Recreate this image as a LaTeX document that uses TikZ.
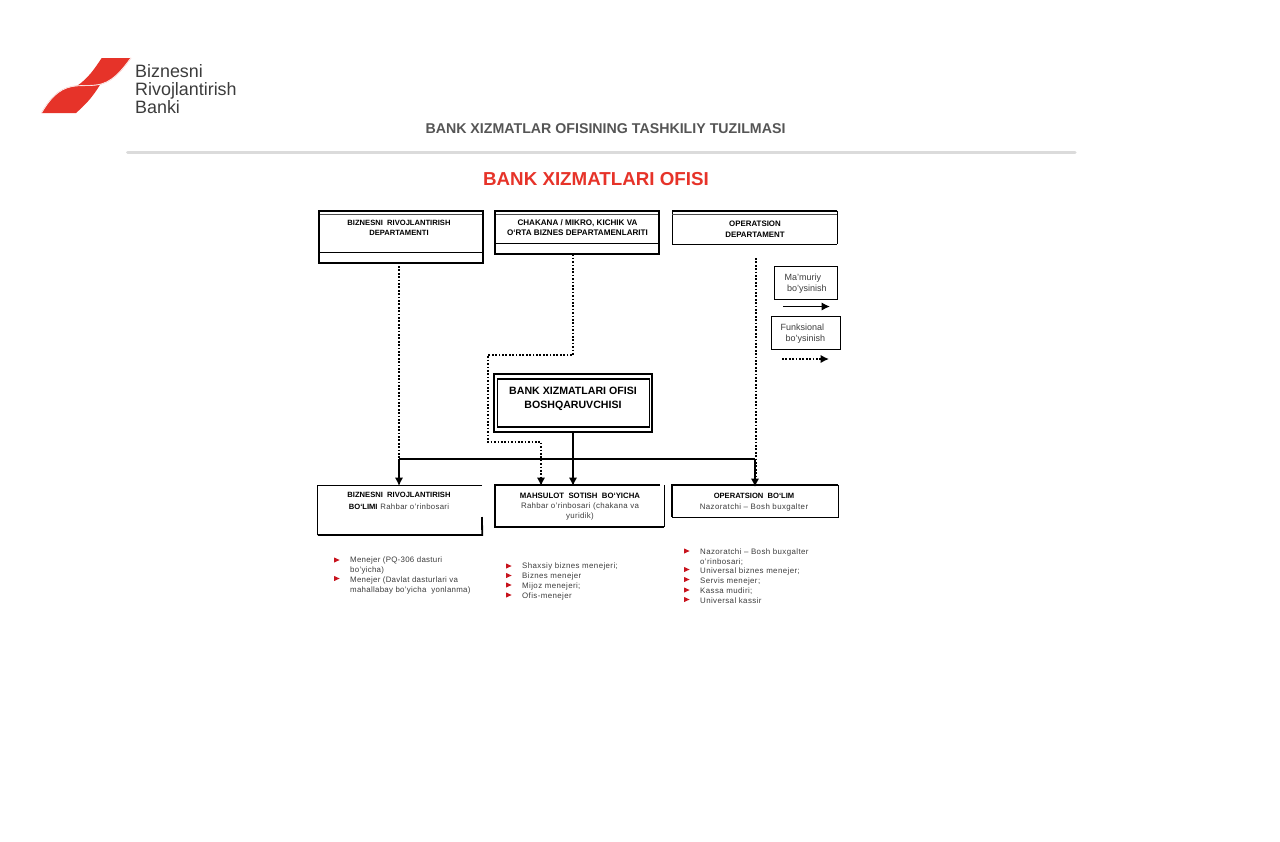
\documentclass[tikz,border=0pt]{standalone}
\usepackage{fontspec}
\setmainfont{Liberation Sans}
\usetikzlibrary{arrows.meta}
\definecolor{brandred}{HTML}{E63329}
\definecolor{bullred}{HTML}{C8141E}
\definecolor{txt}{HTML}{3C3C3C}
\definecolor{greytitle}{HTML}{555555}
\tikzset{
  lbl/.style={align=center,inner sep=0pt,text=black},
  hd/.style={font=\fontsize{7.6}{10.2}\selectfont\bfseries},
  lst/.style={align=left,anchor=north west,inner sep=0pt,text=txt},
  solidc/.style={line width=1.6pt,-{Latex[length=8.5pt,width=8.5pt]}},
  plainc/.style={line width=1.5pt},
  dotc/.style={line width=1.6pt,dash pattern=on 1.7pt off 1.7pt},
  dota/.style={dotc,-{Latex[length=8.5pt,width=8.5pt,sep=0pt]}},
  thickl/.style={line width=1.8pt},
  thinl/.style={line width=.6pt}
}
\newcommand{\bmark}[2]{\fill[bullred] (#1-3,#2-2.6) -- (#1+2.6,#2) -- (#1-3,#2+2.6) -- cycle;}
\newcommand{\spc}[1]{\addfontfeature{LetterSpace=#1}}
\begin{document}
\begin{tikzpicture}[x=1pt,y=-1pt]
\useasboundingbox (0,0) rectangle (1280,841);
% logo
\fill[brandred] (101.7,58) -- (131,58) .. controls (122,70) and (112,83.5) .. (96,85) -- (76,86.5) .. controls (88,79) and (95,68) .. cycle;
\fill[brandred] (41.5,113) .. controls (49,100) and (58,89) .. (72,86.5) .. controls (80,85) and (88,86) .. (96,85) -- (100,84.8) .. controls (92,98) and (85,105) .. (76,113) -- cycle;
\draw[brandred!30,line width=.9pt] (131,57.8) .. controls (122,70) and (112,83.5) .. (96,85) .. controls (88,86) and (80,85) .. (72,86.5) .. controls (58,89) and (49,100) .. (41.5,113);
\draw[white,line width=.3pt] (131,57.8) .. controls (122,70) and (112,83.5) .. (96,85) .. controls (88,86) and (80,85) .. (72,86.5) .. controls (58,89) and (49,100) .. (41.5,113);
\node[anchor=west,inner sep=0pt,align=left,text=txt,font=\fontsize{17.9}{17.7}\selectfont] (logotext) at (135,89) {Biznesni\\Rivojlantirish\\Banki};
% titles
\node[inner sep=0pt,text=greytitle,font=\fontsize{14.2}{16}\selectfont\bfseries] (sub) at (605.5,129) {BANK XIZMATLAR OFISINING TASHKILIY TUZILMASI};
\draw[line width=3pt,color=black!14,line cap=round] (127.5,152.7) -- (1075,152.7);
\node[inner sep=0pt,text=brandred,font=\fontsize{18.75}{22}\selectfont\bfseries] (main) at (596,179.5) {BANK XIZMATLARI OFISI};
% top boxes
\node[draw=none,minimum width=163.2pt,minimum height=51.5pt,inner sep=0pt] (d1) at (400.8,236.65) {};
\draw[thinl,black!70] (319,214.5) -- (482,214.5);
\draw[thinl] (319,252.7) -- (482,252.7);
\draw[thickl] (d1.north west) -- (d1.north east) -- (d1.south east) -- (d1.south west) -- cycle;
\node[lbl,hd] (d1t) at (399,227.5) {BIZNESNI\ \ RIVOJLANTIRISH\\DEPARTAMENTI};

\node[draw=none,minimum width=163.9pt,minimum height=43.2pt,inner sep=0pt] (d2) at (577.15,232.5) {};
\draw[thinl,black!70] (495,214.5) -- (659,214.5);
\draw[thinl] (495,243) -- (659,243);
\draw[thickl] (d2.north west) -- (d2.north east) -- (d2.south east) -- (d2.south west) -- cycle;
\node[lbl,font=\fontsize{8.1}{10.2}\selectfont\bfseries] (d2t) at (577.5,227.5) {CHAKANA / MIKRO, KICHIK VA\\O‘RTA BIZNES DEPARTAMENLARITI};

\node[draw=none,minimum width=164.5pt,minimum height=32.5pt,inner sep=0pt] (d3) at (754.8,227.4) {};
\draw[thinl] (d3.south west) -- (d3.south east);
\draw[thinl] (d3.north west) -- (d3.south west);
\draw[line width=1pt] (d3.north east) -- (d3.south east);
\draw[line width=1.6pt] (d3.north west) -- (d3.north east);
\draw[thinl,black!70] (672,214.5) -- (837,214.5);
\node[lbl,font=\fontsize{7.9}{10.2}\selectfont\bfseries] (d3t) at (755,229.2) {OPERATSION\\DEPARTAMENT};
% manager
\node[draw=none,minimum width=157.4pt,minimum height=57pt,inner sep=0pt] (m) at (573,402.8) {};
\draw[line width=2pt] (m.north west) rectangle (m.south east);
\draw[thinl] (497.5,379) rectangle (649.5,427);
\draw[line width=1.1pt] (497,378.5) -- (650,378.5) (497,426.3) -- (650,426.3);
\node[lbl,font=\fontsize{10.6}{13.6}\selectfont\bfseries] (mt) at (573,399) {BANK XIZMATLARI OFISI\\BOSHQARUVCHISI};
% legend
\node[draw,line width=.7pt,minimum width=63.5pt,minimum height=33pt,inner sep=0pt] (l1) at (806,282.5) {};
\node[anchor=north west,inner sep=0pt,align=left,text=txt,font=\fontsize{9}{11}\selectfont] (l1t) at (784.5,273.5) {Ma’muriy\\\ bo’ysinish};
\node[draw,line width=.7pt,minimum width=69.5pt,minimum height=33pt,inner sep=0pt] (l2) at (806,333) {};
\node[anchor=north west,inner sep=0pt,align=left,text=txt,font=\fontsize{9}{11}\selectfont] (l2t) at (780.5,323.5) {Funksional\\\ \ bo’ysinish};
\coordinate (k1a) at (783,306.5); \coordinate (k1b) at (830,306.5);
\coordinate (k2a) at (782,359); \coordinate (k2b) at (829,359);
\draw[solidc] (k1a) -- (k1b);
\draw[dota] (k2a) -- (k2b);
% lower boxes
\node[draw=none,minimum width=164pt,minimum height=49.5pt,inner sep=0pt] (b1) at (400,510) {};
\draw[line width=.8pt] (b1.north east) -- (b1.north west);
\draw[line width=1pt] (b1.north west) -- (b1.south west);
\draw[thickl] (b1.south west) -- (b1.south east) -- (482,517);
\node[lbl] (b1t) at (399,501) {\fontsize{7.6}{10}\selectfont\bfseries BIZNESNI\ \ RIVOJLANTIRISH\\{\fontsize{7.6}{10}\selectfont\bfseries BO‘LIMI} {\color{txt}\fontsize{7.8}{10}\selectfont\mdseries\spc{4}Rahbar o’rinbosari}};

\node[draw=none,minimum width=169pt,minimum height=42pt,inner sep=0pt] (b2) at (579.5,506) {};
\draw[line width=.8pt] (b2.north east) -- (b2.south east);
\draw[thickl] (b2.north east) ++(-4,0) -- (b2.north west) -- (b2.south west) -- (b2.south east);
\node[lbl,align=center] (b2t) at (580,506.5) {\fontsize{7.8}{10}\selectfont\bfseries MAHSULOT\ \ SOTISH\ \ BO‘YICHA\\[-2pt]{\color{txt}\fontsize{7.9}{10}\selectfont\mdseries\spc{4}Rahbar o’rinbosari (chakana va}\\[-2pt]{\color{txt}\fontsize{7.9}{10}\selectfont\mdseries\spc{4}yuridik)}};

\node[draw=none,minimum width=166pt,minimum height=32pt,inner sep=0pt] (b3) at (755,501) {};
\draw[line width=.8pt] (b3.south west) -- (b3.south east) -- (b3.north east);
\draw[line width=1.6pt] (b3.north east) -- (b3.north west) -- (b3.south west);
\node[lbl] (b3t) at (754,502.5) {\fontsize{7.6}{10.5}\selectfont\bfseries OPERATSION\ \ BO‘LIM\\[-1pt]{\color{txt}\fontsize{7.9}{10.5}\selectfont\mdseries\spc{5}Nazoratchi – Bosh buxgalter}};
% lists
\node[lst,font=\fontsize{7.9}{9.75}\selectfont\addfontfeature{LetterSpace=3.5}] (li1) at (350,557) {Menejer (PQ-306 dasturi\\bo’yicha)\\Menejer (Davlat dasturlari va\\mahallabay bo’yicha\ \ yonlanma)};
\bmark{337}{560}\bmark{337}{578.5}
\node[lst,font=\fontsize{7.9}{9.75}\selectfont\addfontfeature{LetterSpace=5}] (li2) at (522,563) {Shaxsiy biznes menejeri;\\Biznes menejer\\Mijoz menejeri;\\Ofis-menejer};
\bmark{509}{566}\bmark{509}{575.5}\bmark{509}{585}\bmark{509}{595}
\node[lst,font=\fontsize{7.9}{9.75}\selectfont\addfontfeature{LetterSpace=5}] (li3) at (700,548.5) {Nazoratchi – Bosh buxgalter\\o’rinbosari;\\Universal biznes menejer;\\Servis menejer;\\Kassa mudiri;\\Universal kassir};
\bmark{687}{551}\bmark{687}{569.5}\bmark{687}{579.5}\bmark{687}{590}\bmark{687}{599.5}
% connectors
\coordinate (j1) at (399,459);
\coordinate (j2) at (573,459);
\coordinate (j3) at (755,459);
\coordinate (t1) at (399,486);
\coordinate (t2) at (573,486);
\coordinate (t2d) at (541,486);
\coordinate (t3) at (755,487);
\coordinate (f3) at (756,258);
\coordinate (e1) at (573,355);
\coordinate (e2) at (488,355);
\coordinate (e3) at (488,442);
\coordinate (e4) at (541,442);
\coordinate (f3e) at (756,480);
\draw[dotc] (d1.south -| j1) -- (j1);
\draw[dotc] (f3) -- (f3e);
\draw[dota] (d2.south -| e1) -- (e1) -- (e2) -- (e3) -- (e4) -- (t2d);
\draw[plainc] (j1) -- (j3);
\draw[plainc] (m.south -| j2) -- (j2);
\draw[solidc] (j1) -- (t1);
\draw[solidc] (j2) -- (t2);
\draw[solidc] (j3) -- (t3);
\end{tikzpicture}
\end{document}
